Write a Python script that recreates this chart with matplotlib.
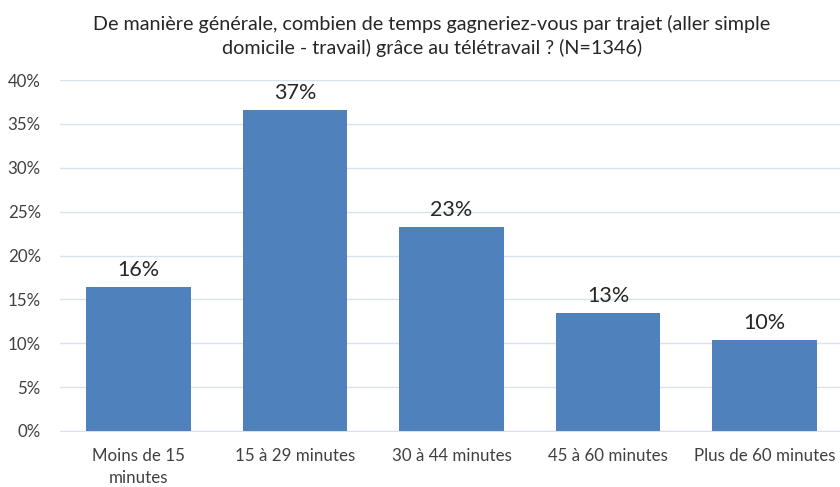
import matplotlib.pyplot as plt
from matplotlib.ticker import PercentFormatter

plt.rcParams['font.family'] = ['Lato', 'DejaVu Sans']

categories = ['Moins de 15\nminutes', '15 à 29 minutes', '30 à 44 minutes',
              '45 à 60 minutes', 'Plus de 60 minutes']
values = [16.4, 36.6, 23.2, 13.4, 10.4]
labels = ['16%', '37%', '23%', '13%', '10%']

fig = plt.figure(figsize=(8.4, 4.87), dpi=100)
ax = fig.add_axes([0.0717, 0.115, 0.9315, 0.7207])

x = range(len(categories))
bars = ax.bar(x, values, width=0.67, color='#4F81BD', zorder=3)
for b, lab in zip(bars, labels):
    ax.text(b.get_x() + b.get_width() / 2, b.get_height() + 0.8, lab,
            ha='center', va='bottom', fontsize=15.5, color='#262626')

ax.set_xlim(-0.5, len(categories) - 0.5)
ax.set_ylim(0, 40)
ax.set_yticks(range(0, 41, 5))
ax.yaxis.set_major_formatter(PercentFormatter(decimals=0))
ax.set_xticks(list(x))
ax.set_xticklabels(categories, linespacing=1.45)
ax.grid(axis='y', color='#D9E1F0', linewidth=1, zorder=0)
for s in ['top', 'right', 'left']:
    ax.spines[s].set_visible(False)
ax.spines['bottom'].set_color('#D9E1F0')
ax.tick_params(axis='both', length=0, labelsize=12.2, colors='#404040')
ax.tick_params(axis='x', pad=12)
ax.tick_params(axis='y', pad=14)

fig.text(0.514, 0.926, "De manière générale, combien de temps gagneriez-vous par trajet (aller simple\n"
         "domicile - travail) grâce au télétravail ? (N=1346)",
         ha='center', va='center', fontsize=14.2, color='#262626', linespacing=1.35)

fig.savefig('out.png', dpi=100)
